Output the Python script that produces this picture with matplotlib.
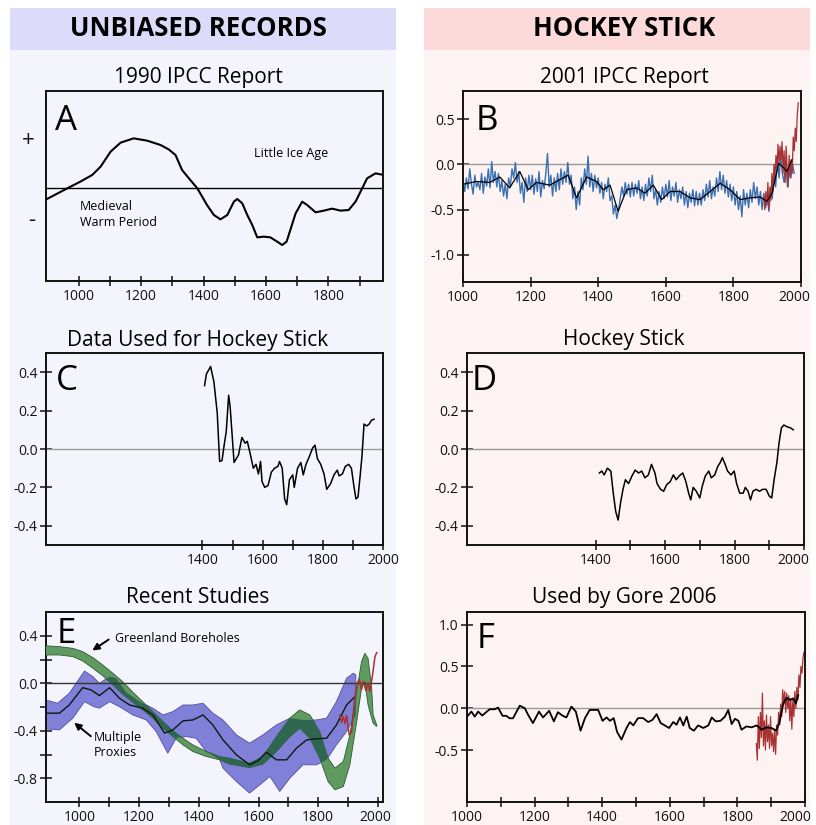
import numpy as np
import matplotlib
matplotlib.use("Agg")
from matplotlib import pyplot as plt
from matplotlib.patches import Rectangle
from matplotlib.transforms import ScaledTranslation

plt.rcParams["font.family"] = ["Open Sans", "DejaVu Sans"]

W, H = 816, 825

# ---- panel A: 1990 IPCC schematic (arbitrary units) ----
a_years = [896, 963, 1005, 1043, 1070, 1102, 1134, 1176, 1219, 1262, 1288, 1310, 1331, 1353,
           1380, 1411, 1433, 1454, 1476, 1497, 1508, 1524, 1540, 1556, 1572, 1593, 1614, 1636,
           1652, 1666, 1678, 1695, 1716, 1732, 1759, 1785, 1812, 1839, 1865, 1887, 1903, 1924,
           1951, 1978]
a_vals = [-0.227, -0.007, 0.127, 0.26, 0.427, 0.727, 0.907, 0.993, 0.947, 0.86, 0.773, 0.66, 0.36, 0.193,
          -0.007, -0.34, -0.54, -0.627, -0.54, -0.273, -0.22, -0.307, -0.54, -0.74, -0.987, -0.973, -0.987, -1.073,
          -1.14, -1.073, -0.84, -0.507, -0.273, -0.34, -0.487, -0.453, -0.413, -0.453, -0.44, -0.273, -0.073, 0.193,
          0.293, 0.26]

# ---- panel B: 2001 IPCC report ----
b_years = list(range(1000, 1981, 5))
b_blue = [-0.18, -0.30, -0.15, -0.27, -0.05, -0.22, -0.33, -0.12, -0.25, -0.20,
          -0.28, -0.10, -0.32, -0.14, -0.24, -0.05, -0.26, 0.03, -0.20, -0.08,
          -0.25, -0.10, -0.30, -0.18, -0.35, -0.22, -0.38, -0.15, -0.25, -0.05,
          -0.15, 0.02, -0.20, -0.08, -0.32, -0.20, -0.42, -0.15, -0.30, -0.12,
          -0.28, -0.12, -0.33, -0.16, -0.30, -0.08, -0.36, -0.18, -0.27, -0.10,
          0.12, -0.25, -0.12, -0.35, -0.15, -0.30, -0.10, -0.28, -0.05, -0.22,
          -0.08, -0.20, 0.02, -0.22, -0.12, -0.38, -0.25, -0.50, -0.30, -0.45,
          -0.15, -0.28, -0.05, -0.22, 0.09, -0.25, -0.10, -0.30, -0.12, -0.26,
          -0.15, -0.32, -0.20, -0.38, -0.22, -0.30, -0.15, -0.40, -0.35, -0.55,
          -0.45, -0.60, -0.50, -0.38, -0.25, -0.35, -0.20, -0.33, -0.22, -0.36,
          -0.20, -0.35, -0.22, -0.32, -0.18, -0.38, -0.25, -0.40, -0.22, -0.35,
          -0.15, -0.30, -0.12, -0.38, -0.28, -0.45, -0.30, -0.42, -0.25, -0.38,
          -0.22, -0.36, -0.18, -0.40, -0.25, -0.35, -0.20, -0.42, -0.28, -0.38,
          -0.25, -0.45, -0.30, -0.48, -0.32, -0.42, -0.28, -0.46, -0.30, -0.45,
          -0.32, -0.45, -0.28, -0.40, -0.22, -0.36, -0.18, -0.38, -0.25, -0.35,
          -0.15, -0.30, -0.08, -0.28, -0.12, -0.32, -0.18, -0.36, -0.22, -0.40,
          -0.25, -0.45, -0.30, -0.50, -0.35, -0.58, -0.28, -0.45, -0.32, -0.48,
          -0.28, -0.42, -0.20, -0.38, -0.25, -0.45, -0.30, -0.50, -0.32, -0.48,
          -0.35, -0.52, -0.30, -0.38, -0.10, -0.25, 0.05, -0.15, 0.08, -0.10,
          -0.20, 0.02, -0.25, -0.05, -0.15, 0.0, -0.10]
b_smooth_years = [1000, 1040, 1079, 1109, 1138, 1168, 1193, 1217, 1257, 1286, 1311, 1336, 1366,
                  1395, 1415, 1435, 1459, 1484, 1514, 1538, 1563, 1588, 1613, 1642, 1672, 1701,
                  1731, 1761, 1790, 1820, 1850, 1879, 1899, 1914, 1934, 1949, 1958, 1973]
b_smooth = [-0.22, -0.19, -0.20, -0.14, -0.26, -0.08, -0.28, -0.20, -0.23, -0.17, -0.12, -0.37, -0.14,
            -0.19, -0.28, -0.23, -0.52, -0.28, -0.26, -0.32, -0.23, -0.39, -0.30, -0.30, -0.37, -0.39,
            -0.30, -0.21, -0.28, -0.39, -0.37, -0.36, -0.41, -0.32, 0.01, -0.04, -0.08, 0.05]
b_red_years = list(range(1890, 1993, 3))
b_red = [-0.35, -0.50, -0.30, -0.45, -0.20, -0.50, -0.25, -0.40, -0.10, -0.30,
         0.0, -0.15, 0.10, -0.05, 0.22, 0.0, 0.20, 0.05, 0.25, -0.10,
         0.15, -0.20, 0.20, -0.05, -0.25, 0.10, -0.15, 0.05, -0.10, 0.30,
         0.15, 0.40, 0.25, 0.55, 0.68]

# ---- panel C: data used for hockey stick ----
c_years = [1407, 1413, 1427, 1438, 1449, 1457, 1465, 1473, 1479, 1487, 1492, 1505, 1520, 1531,
           1542, 1549, 1558, 1569, 1578, 1586, 1593, 1598, 1607, 1618, 1629, 1640, 1651, 1656,
           1665, 1673, 1680, 1689, 1700, 1705, 1716, 1727, 1735, 1744, 1755, 1766, 1774, 1782,
           1793, 1804, 1813, 1826, 1837, 1848, 1854, 1865, 1875, 1886, 1895, 1903, 1910, 1917,
           1924, 1930, 1937, 1946, 1954, 1962, 1970]
c_vals = [0.33, 0.39, 0.43, 0.35, 0.19, -0.065, -0.06, 0.03, 0.09, 0.28, 0.22, -0.07, -0.03, 0.06,
          0.03, 0.04, -0.02, -0.10, -0.08, -0.13, -0.065, -0.17, -0.20, -0.19, -0.12, -0.10, -0.09, -0.065,
          -0.10, -0.26, -0.29, -0.16, -0.135, -0.20, -0.10, -0.07, -0.135, -0.08, -0.04, 0.005, 0.02, -0.05,
          -0.08, -0.13, -0.21, -0.18, -0.135, -0.11, -0.14, -0.13, -0.09, -0.08, -0.10, -0.19, -0.26, -0.25,
          -0.14, -0.04, 0.13, 0.12, 0.13, 0.15, 0.155]

# ---- panel D: hockey stick ----
d_years = [1411, 1418, 1425, 1434, 1444, 1451, 1458, 1465, 1472, 1479, 1486, 1495, 1505, 1514,
           1524, 1533, 1542, 1552, 1561, 1571, 1577, 1587, 1596, 1605, 1615, 1624, 1632, 1641,
           1651, 1660, 1668, 1674, 1681, 1690, 1700, 1707, 1716, 1726, 1733, 1743, 1752, 1759,
           1765, 1773, 1780, 1790, 1799, 1806, 1815, 1825, 1831, 1839, 1846, 1853, 1862, 1872,
           1881, 1891, 1900, 1907, 1914, 1922, 1928, 1935, 1942, 1952, 1961, 1969]
d_vals = [-0.125, -0.115, -0.135, -0.10, -0.115, -0.23, -0.325, -0.37, -0.28, -0.21, -0.16, -0.18, -0.14, -0.11,
          -0.125, -0.115, -0.15, -0.135, -0.08, -0.125, -0.18, -0.21, -0.22, -0.185, -0.17, -0.135, -0.16, -0.14,
          -0.125, -0.17, -0.23, -0.265, -0.20, -0.22, -0.255, -0.195, -0.14, -0.115, -0.15, -0.135, -0.09, -0.07,
          -0.045, -0.08, -0.115, -0.135, -0.115, -0.18, -0.23, -0.23, -0.20, -0.22, -0.265, -0.22, -0.21, -0.22,
          -0.21, -0.21, -0.245, -0.255, -0.16, -0.07, 0.03, 0.11, 0.125, 0.115, 0.11, 0.10]

# ---- panel E: recent studies ----
e_prox_up_years = [886, 927, 966, 1017, 1045, 1067, 1101, 1123, 1157, 1201, 1246, 1280, 1313, 1347,
                   1380, 1414, 1447, 1481, 1526, 1570, 1615, 1660, 1705, 1749, 1794, 1828, 1861,
                   1895, 1917, 1926]
e_prox_up = [-0.14, -0.168, -0.084, 0.103, 0.056, 0.0, 0.056, 0.042, -0.076, -0.155, -0.21, -0.267,
             -0.239, -0.183, -0.183, -0.168, -0.252, -0.309, -0.435, -0.505, -0.435, -0.351, -0.294,
             -0.309, -0.309, -0.294, -0.155, 0.042, 0.084, 0.07]
e_prox_lo_years = [886, 933, 978, 1017, 1048, 1067, 1101, 1134, 1179, 1224, 1257, 1296, 1324, 1358,
                   1391, 1425, 1470, 1481, 1526, 1570, 1604, 1638, 1671, 1705, 1749, 1794, 1828,
                   1861, 1895, 1926]
e_prox_lo = [-0.384, -0.393, -0.294, -0.155, -0.197, -0.21, -0.155, -0.197, -0.267, -0.309, -0.407,
             -0.589, -0.463, -0.449, -0.463, -0.575, -0.645, -0.715, -0.828, -0.925, -0.856, -0.785,
             -0.911, -0.799, -0.687, -0.687, -0.645, -0.519, -0.407, -0.267]
e_prox_mid_years = [890, 933, 966, 1011, 1039, 1067, 1101, 1134, 1168, 1212, 1246, 1285, 1313, 1347,
                    1380, 1414, 1447, 1481, 1526, 1570, 1598, 1626, 1660, 1694, 1727, 1761, 1794,
                    1828, 1861, 1895, 1923]
e_prox_mid = [-0.252, -0.252, -0.183, -0.037, -0.056, -0.104, -0.037, -0.126, -0.183, -0.21, -0.267,
              -0.42, -0.393, -0.317, -0.309, -0.267, -0.351, -0.477, -0.603, -0.687, -0.653, -0.58,
              -0.645, -0.645, -0.547, -0.477, -0.468, -0.463, -0.351, -0.183, -0.113]
e_bore_years = [886, 933, 978, 1011, 1045, 1078, 1112, 1145, 1179, 1212, 1246, 1280, 1313, 1347,
                1380, 1425, 1470, 1503, 1570, 1615, 1660, 1705, 1738, 1772, 1805, 1833, 1856, 1884,
                1906, 1929, 1945, 1956, 1967, 1979, 1984, 1996]
e_bore_up = [0.316, 0.308, 0.294, 0.266, 0.216, 0.154, 0.084, 0.013, -0.076, -0.155, -0.239, -0.323,
             -0.40, -0.463, -0.519, -0.575, -0.617, -0.631, -0.673, -0.617, -0.449, -0.294, -0.224,
             -0.267, -0.407, -0.631, -0.715, -0.659, -0.435, -0.071, 0.182, 0.252, 0.21, -0.042,
             -0.267, -0.351]
e_bore_lo = [0.238, 0.238, 0.224, 0.188, 0.126, 0.064, -0.014, -0.093, -0.16, -0.224, -0.294, -0.378,
             -0.449, -0.519, -0.575, -0.617, -0.645, -0.681, -0.71, -0.681, -0.575, -0.449, -0.378,
             -0.463, -0.631, -0.828, -0.897, -0.87, -0.687, -0.323, -0.042, 0.013, -0.183, -0.294,
             -0.336, -0.365]
e_red_years = [1872, 1878, 1884, 1890, 1895, 1904, 1912, 1920, 1929, 1938, 1945, 1951, 1960, 1967,
               1973, 1982, 1990, 1996]
e_red = [-0.267, -0.33, -0.28, -0.34, -0.27, -0.435, -0.407, -0.183, 0.0, 0.03, -0.056, 0.015,
         -0.063, 0.0, -0.07, 0.07, 0.224, 0.258]

# ---- panel F: used by Gore 2006 ----
f_years = [1000, 1013, 1023, 1033, 1045, 1067, 1082, 1092, 1105, 1116, 1126, 1136, 1156, 1171,
           1181, 1195, 1213, 1225, 1243, 1257, 1269, 1282, 1294, 1309, 1322, 1336, 1349, 1363,
           1388, 1401, 1413, 1423, 1434, 1444, 1457, 1472, 1482, 1492, 1506, 1521, 1536, 1549,
           1561, 1573, 1585, 1598, 1610, 1620, 1630, 1640, 1650, 1659, 1671, 1684, 1699, 1714,
           1724, 1736, 1750, 1763, 1773, 1783, 1793, 1803, 1812, 1827, 1842, 1857, 1872, 1886,
           1901, 1914, 1924, 1936, 1946, 1956, 1965, 1973, 1980]
f_vals = [-0.10, -0.04, -0.10, -0.04, -0.087, -0.012, -0.012, 0.008, -0.09, -0.09, -0.12, -0.12, 0.03, 0.0,
          -0.08, -0.177, -0.04, -0.11, -0.03, -0.157, -0.047, -0.087, -0.11, 0.02, -0.04, -0.268, -0.118, -0.02,
          -0.02, -0.15, -0.11, -0.15, -0.118, -0.283, -0.374, -0.236, -0.165, -0.205, -0.118, -0.118, -0.165, -0.138,
          -0.07, -0.177, -0.205, -0.236, -0.165, -0.197, -0.11, -0.205, -0.10, -0.236, -0.268, -0.205, -0.236, -0.205,
          -0.11, -0.157, -0.15, -0.10, -0.02, -0.189, -0.126, -0.15, -0.256, -0.217, -0.228, -0.205, -0.256, -0.228,
          -0.236, -0.268, -0.177, 0.059, 0.126, 0.098, 0.118, 0.059, 0.157]
f_red_years = list(range(1856, 1998, 3))
f_red = [-0.42, -0.62, -0.10, -0.48, -0.05, -0.35, 0.18, -0.45, -0.15, -0.50,
         -0.08, -0.40, -0.20, -0.48, -0.10, -0.45, -0.30, -0.52, -0.25, -0.55,
         -0.20, -0.32, -0.05, -0.20, 0.05, -0.10, 0.22, 0.05, 0.20, -0.05,
         0.18, 0.0, 0.15, -0.15, 0.12, -0.25, 0.10, -0.10, 0.20, 0.0,
         0.25, 0.10, 0.40, 0.25, 0.50, 0.42, 0.60, 0.67]

RED = "#a83232"
BLUE = "#3a70b2"
LEFT_BG, LEFT_HEAD = "#f4f4fd", "#dcdcfa"
RIGHT_BG, RIGHT_HEAD = "#fdf3f3", "#fddada"

fig = plt.figure(figsize=(W / 100, H / 100), dpi=100)
fig.patch.set_facecolor("white")

# column backgrounds and headers
for x0, bg, head in [(10, LEFT_BG, LEFT_HEAD), (424, RIGHT_BG, RIGHT_HEAD)]:
    fig.patches.append(Rectangle((x0 / W, 0), 386 / W, 1 - 50 / H, transform=fig.transFigure,
                                 facecolor=bg, edgecolor="none", zorder=-5))
    fig.patches.append(Rectangle((x0 / W, 1 - 50 / H), 386 / W, 42 / H, transform=fig.transFigure,
                                 facecolor=head, edgecolor="none", zorder=-5))

fig.text(198 / W, 1 - 36 / H, "UNBIASED RECORDS", ha="center", va="baseline",
         fontsize=18.5, fontweight="bold")
fig.text(624 / W, 1 - 36 / H, "HOCKEY STICK", ha="center", va="baseline",
         fontsize=18.5, fontweight="bold")


def make_axes(l, t, r, b):
    ax = fig.add_axes([l / W, 1 - b / H, (r - l) / W, (b - t) / H])
    ax.set_zorder(2)
    ax.set_facecolor("none")
    for s in ax.spines.values():
        s.set_linewidth(1.4)
        s.set_color("#111111")
    ax.tick_params(direction="inout", length=8, width=1.1, labelsize=10, pad=2, colors="#111111")
    ax.tick_params(axis="x", length=7)
    return ax


def set_xt(ax, ticks, every_other=True):
    ax.set_xticks(ticks)
    if every_other:
        ax.set_xticklabels([str(t) if (t // 100) % 2 == 0 else "" for t in ticks])
    else:
        ax.set_xticklabels([str(t) for t in ticks])


def set_yt(ax, ticks):
    ax.set_yticks(ticks)
    ax.set_yticklabels(["%.1f" % t for t in ticks])


def shift_last_xlabel(ax, dx_px):
    # the last year label sits a little left of the right spine in the original
    lab = ax.get_xticklabels()[-1]
    lab.set_transform(lab.get_transform() + ScaledTranslation(dx_px / 100, 0, fig.dpi_scale_trans))


def title(x, y, s):
    fig.text(x / W, 1 - y / H, s, ha="center", va="baseline", fontsize=15)


def letter(x, y, s):
    fig.text(x / W, 1 - y / H, s, ha="left", va="baseline", fontsize=25)


# A
ax = make_axes(46, 91, 383, 281)
ax.plot(a_years, a_vals, color="black", lw=1.5)
ax.axhline(0, color="black", lw=1.0)
ax.set_xlim(895, 1975)
ax.set_ylim(-1.86, 1.94)
set_xt(ax, list(range(1000, 1901, 100)))
ax.set_yticks([1.0, -0.6])
ax.set_yticklabels(["+", "-"], fontsize=16)
ax.tick_params(axis="y", length=0, pad=8)
ax.text(291 / W, 1 - 154 / H, "Little Ice Age", transform=fig.transFigure, ha="center", va="center", fontsize=9)
ax.text(80 / W, 1 - 214 / H, "Medieval\nWarm Period", transform=fig.transFigure, ha="left", va="center",
        fontsize=9, linespacing=1.3)
title(198, 83, "1990 IPCC Report")
letter(55, 130, "A")

# B
ax = make_axes(463, 91, 801, 282)
ax.axhline(0, color="#999999", lw=1.0)
ax.plot(b_years, b_blue, color=BLUE, lw=1.0)
ax.plot(b_red_years, b_red, color=RED, lw=0.9)
ax.plot(b_smooth_years, b_smooth, color="black", lw=0.9)
ax.set_xlim(1000, 2000)
ax.set_ylim(-1.30, 0.81)
set_xt(ax, list(range(1000, 2001, 200)), every_other=False)
set_yt(ax, [0.5, 0.0, -0.5, -1.0])
shift_last_xlabel(ax, -7)
title(624, 83, "2001 IPCC Report")
letter(476, 130, "B")

# C
ax = make_axes(46, 353, 383, 545)
ax.axhline(0, color="#999999", lw=1.0)
ax.plot(c_years, c_vals, color="black", lw=1.1)
ax.set_xlim(880, 2000)
ax.set_ylim(-0.5, 0.5)
set_xt(ax, list(range(1400, 2001, 100)))
set_yt(ax, [0.4, 0.2, 0.0, -0.2, -0.4])
title(198, 346, "Data Used for Hockey Stick")
letter(56, 390, "C")

# D
ax = make_axes(467, 353, 804, 545)
ax.axhline(0, color="#999999", lw=1.0)
ax.plot(d_years, d_vals, color="black", lw=1.1)
ax.set_xlim(1030, 2000)
ax.set_ylim(-0.5, 0.5)
set_xt(ax, list(range(1400, 2001, 100)))
set_yt(ax, [0.4, 0.2, 0.0, -0.2, -0.4])
shift_last_xlabel(ax, -11)
title(624, 345, "Hockey Stick")
letter(472, 390, "D")

# E
ax = make_axes(46, 612, 383, 802)
ax.fill(np.r_[e_prox_up_years, e_prox_lo_years[::-1]], np.r_[e_prox_up, e_prox_lo[::-1]],
        facecolor="#8080d8", edgecolor="#5050a0", lw=0.6, zorder=2)
ax.fill(np.r_[e_bore_years, e_bore_years[::-1]], np.r_[e_bore_up, e_bore_lo[::-1]],
        facecolor="#5f9a60", edgecolor="#2f5a30", lw=0.6, zorder=3)
# darker where the two bands overlap
grid = np.linspace(max(e_prox_up_years[0], e_prox_lo_years[0]), min(e_prox_up_years[-1], e_prox_lo_years[-1]), 600)
p_hi = np.interp(grid, e_prox_up_years, e_prox_up)
p_lo = np.interp(grid, e_prox_lo_years, e_prox_lo)
g_hi = np.interp(grid, e_bore_years, e_bore_up)
g_lo = np.interp(grid, e_bore_years, e_bore_lo)
top = np.minimum(p_hi, g_hi)
bot = np.maximum(p_lo, g_lo)
ax.fill_between(grid, bot, top, where=top > bot, color="#2f6650", lw=0, zorder=4)
ax.axhline(0, color="#333333", lw=1.0, zorder=5)
ax.plot(e_prox_mid_years, e_prox_mid, color="#0a1a10", lw=1.0, zorder=6)
ax.plot(e_red_years, e_red, color=RED, lw=1.1, zorder=6)
ax.set_xlim(888, 2017)
ax.set_ylim(-1.0, 0.6)
set_xt(ax, list(range(1000, 2001, 100)))
set_yt(ax, [0.4, 0.0, -0.4, -0.8])
ax.set_yticks([0.2, -0.2, -0.6], minor=True)
ax.tick_params(axis="y", which="minor", direction="inout", length=8, width=1.1, colors="#111111")
shift_last_xlabel(ax, -3)
ax.annotate("", xy=(90 / W, 1 - 652 / H), xytext=(111 / W, 1 - 638 / H), xycoords="figure fraction",
            arrowprops=dict(arrowstyle="-|>", color="black", lw=1.4, mutation_scale=10))
ax.text(115 / W, 1 - 638 / H, "Greenland Boreholes", transform=fig.transFigure, ha="left", va="center",
        fontsize=9, zorder=7)
ax.annotate("", xy=(72 / W, 1 - 721 / H), xytext=(93 / W, 1 - 738 / H), xycoords="figure fraction",
            arrowprops=dict(arrowstyle="-|>", color="black", lw=1.4, mutation_scale=10))
ax.text(94 / W, 1 - 745 / H, "Multiple\nProxies", transform=fig.transFigure, ha="left", va="center",
        fontsize=9, linespacing=1.2, zorder=7)
title(198, 603, "Recent Studies")
letter(57, 643, "E")

# F
ax = make_axes(467, 612, 805, 802)
ax.axhline(0, color="#999999", lw=1.0)
ax.plot(f_red_years, f_red, color=RED, lw=0.9)
ax.plot(f_years, f_vals, color="black", lw=1.3)
ax.set_xlim(1000, 2000)
ax.set_ylim(-1.12, 1.15)
set_xt(ax, list(range(1000, 2001, 100)))
set_yt(ax, [1.0, 0.5, 0.0, -0.5])
shift_last_xlabel(ax, -10)
title(624, 603, "Used by Gore 2006")
letter(477, 648, "F")

fig.savefig("out.png", dpi=100)
